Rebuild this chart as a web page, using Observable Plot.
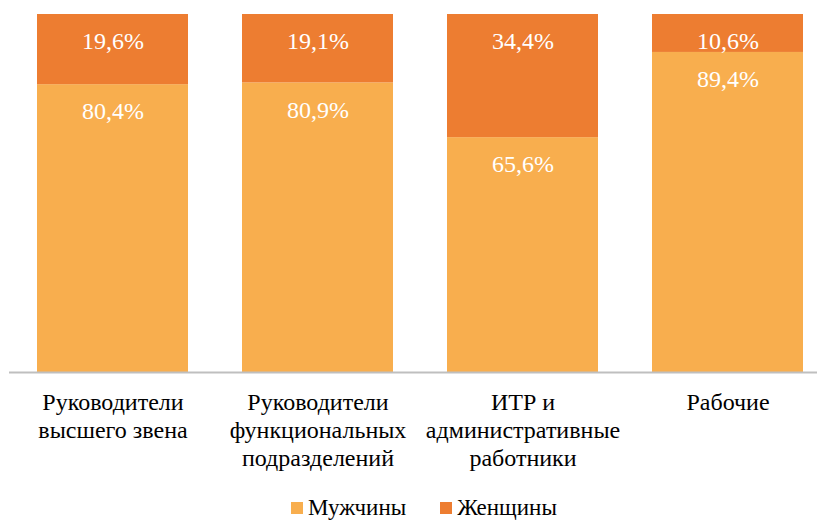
<!DOCTYPE html>
<html><head><meta charset="utf-8">
<script src="https://cdn.jsdelivr.net/npm/d3@7"></script>
<script src="https://cdn.jsdelivr.net/npm/@observablehq/plot@0.6"></script>
</head>
<body style="margin:0;background:#fff;font-family:'Liberation Serif',serif;">
<div id="chart"></div>
<div id="legend" style="display:flex;justify-content:center;gap:34px;font-size:23px;color:#000;margin-left:31px;margin-top:9px;font-family:'Liberation Serif',serif;"></div>
<script>
const categories = ["Руководители\nвысшего звена", "Руководители\nфункциональных\nподразделений", "ИТР и\nадминистративные\nработники", "Рабочие"];
const seriesNames = ["Мужчины", "Женщины"];
const men = [80.4, 80.9, 65.6, 89.4];
const women = [19.6, 19.1, 34.4, 10.6];
const colors = ["#F8AE4E", "#ED7D31"];

const data = [];
categories.forEach((c, i) => data.push({cat: c, series: seriesNames[0], v: men[i]}));
categories.forEach((c, i) => data.push({cat: c, series: seriesNames[1], v: women[i]}));
const fmt = d => d.v.toFixed(1).replace(".", ",") + "%";

const chart = Plot.plot({
  width: 817,
  height: 486,
  marginTop: 14,
  marginBottom: 114,
  marginLeft: 9,
  marginRight: 0,
  style: {fontFamily: "Liberation Serif", background: "#fff"},
  x: {domain: categories, range: [9, 830], paddingInner: 0.265, paddingOuter: 0.1325, label: null},
  y: {domain: [0, 100], axis: null},
  color: {domain: seriesNames, range: colors},
  marks: [
    Plot.barY(data, Plot.stackY({x: "cat", y: "v", fill: "series", z: "series"})),
    Plot.ruleY([0], {stroke: "#BFBFBF", strokeWidth: 2}),
    Plot.text(data, Plot.stackY2({x: "cat", y: "v", z: "series", text: fmt, dy: 27, fill: "#fff", fontSize: 24})),
    Plot.axisX({tickSize: 0, tickPadding: 18, fontSize: 24, lineHeight: 1.16, fill: "#000", label: null})
  ]
});
chart.querySelectorAll("text, g").forEach(t => { t.setAttribute("font-family", "Liberation Serif"); t.style.fontFamily = "Liberation Serif"; });
document.getElementById("chart").appendChild(chart);
const lg = document.getElementById("legend");
seriesNames.forEach((s, i) => {
  const it = document.createElement("span");
  it.style.cssText = "display:flex;align-items:center;font-family:'Liberation Serif',serif;";
  const sw = document.createElement("span");
  sw.style.cssText = "display:inline-block;width:12px;height:12px;margin-right:5px;background:" + colors[i];
  it.appendChild(sw); it.appendChild(document.createTextNode(s));
  lg.appendChild(it);
});
</script></body></html>
